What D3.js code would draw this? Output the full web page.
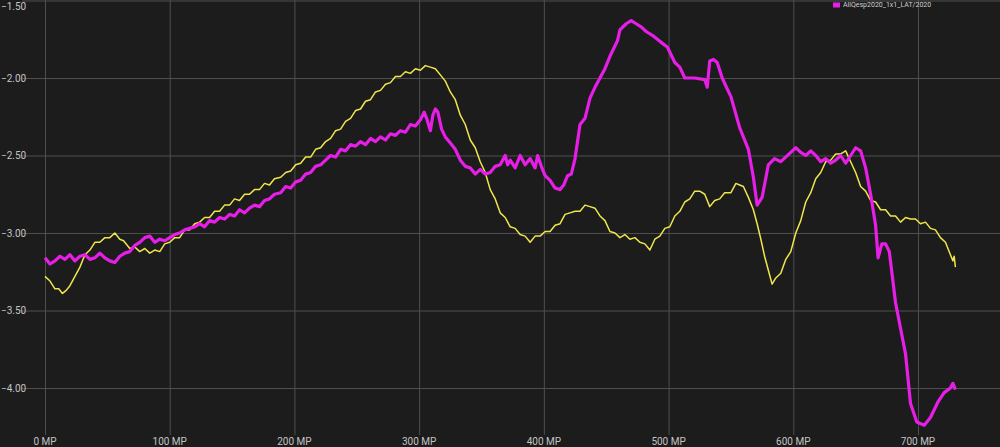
<!DOCTYPE html>
<html><head><meta charset="utf-8">
<script src="https://cdn.jsdelivr.net/npm/d3@7"></script>
<style>html,body{margin:0;padding:0;background:#1c1c1c;overflow:hidden}</style>
</head><body>
<svg id="c" width="1000" height="447"></svg>
<script>
const yTicks = [-1.5, -2.0, -2.5, -3.0, -3.5, -4.0];
const xTicks = [0, 100, 200, 300, 400, 500, 600, 700];
const legendLabel = "AllQesp2020_1x1_LAT/2020";

// [MP, value]
const yellowSeries = [
[0,-3.28],[4,-3.31],[8,-3.36],[11,-3.36],[14,-3.39],[17,-3.37],[20,-3.34],[24,-3.28],[28,-3.22],[32,-3.14],[36,-3.11],[40,-3.06],[44,-3.06],[48,-3.03],[52,-3.03],[56,-3.00],[60,-3.04],[63,-3.05],[68,-3.10],[72,-3.09],[76,-3.12],[80,-3.10],[84,-3.13],[88,-3.11],[92,-3.12],[96,-3.07],[100,-3.06],[104,-3.03],[108,-3.03],[112,-2.98],[116,-2.98],[120,-2.94],[124,-2.93],[128,-2.90],[132,-2.90],[136,-2.86],[140,-2.86],[144,-2.82],[148,-2.82],[152,-2.78],[156,-2.79],[160,-2.75],[164,-2.75],[168,-2.72],[172,-2.72],[176,-2.68],[180,-2.69],[184,-2.65],[189,-2.64],[193,-2.61],[197,-2.60],[201,-2.56],[205,-2.55],[209,-2.51],[213,-2.51],[217,-2.46],[221,-2.45],[225,-2.41],[229,-2.39],[233,-2.34],[237,-2.33],[241,-2.28],[245,-2.26],[249,-2.21],[253,-2.20],[257,-2.15],[261,-2.14],[265,-2.09],[269,-2.08],[273,-2.04],[277,-2.03],[281,-1.99],[285,-1.99],[289,-1.96],[293,-1.97],[297,-1.94],[301,-1.95],[305,-1.92],[309,-1.93],[313,-1.94],[317,-1.98],[321,-2.02],[325,-2.09],[329,-2.14],[333,-2.24],[337,-2.30],[341,-2.40],[345,-2.45],[349,-2.54],[353,-2.61],[357,-2.72],[361,-2.78],[365,-2.87],[369,-2.90],[373,-2.96],[377,-2.97],[381,-3.01],[385,-3.02],[389,-3.06],[393,-3.02],[397,-3.02],[401,-2.99],[405,-2.99],[409,-2.95],[413,-2.94],[417,-2.88],[421,-2.87],[425,-2.86],[429,-2.86],[433,-2.82],[437,-2.83],[441,-2.84],[445,-2.89],[449,-2.92],[453,-2.99],[457,-3.00],[461,-3.03],[465,-3.01],[469,-3.04],[473,-3.03],[477,-3.06],[481,-3.07],[485,-3.11],[489,-3.04],[493,-3.02],[497,-2.97],[501,-2.96],[505,-2.89],[509,-2.86],[513,-2.80],[517,-2.78],[521,-2.73],[525,-2.73],[529,-2.75],[533,-2.83],[537,-2.79],[541,-2.78],[545,-2.74],[550,-2.74],[554,-2.68],[557,-2.69],[560,-2.70],[564,-2.77],[568,-2.85],[571,-2.94],[574,-3.04],[577,-3.15],[580,-3.24],[583,-3.33],[586,-3.29],[590,-3.26],[594,-3.17],[598,-3.12],[602,-3.00],[606,-2.92],[610,-2.80],[614,-2.74],[618,-2.65],[622,-2.61],[626,-2.54],[630,-2.53],[634,-2.49],[638,-2.49],[642,-2.47],[646,-2.54],[650,-2.61],[654,-2.70],[658,-2.73],[662,-2.79],[666,-2.80],[670,-2.85],[674,-2.85],[678,-2.89],[682,-2.89],[686,-2.93],[690,-2.90],[694,-2.91],[698,-2.91],[702,-2.94],[706,-2.93],[710,-2.97],[714,-2.98],[718,-3.03],[722,-3.06],[726,-3.14],[728,-3.18],[729,-3.15],[730,-3.22]
];

const magentaSeries = [
[0,-3.16],[4,-3.20],[8,-3.18],[12,-3.15],[16,-3.17],[20,-3.14],[24,-3.18],[28,-3.15],[32,-3.14],[36,-3.17],[40,-3.16],[44,-3.13],[48,-3.16],[52,-3.18],[56,-3.19],[60,-3.15],[64,-3.13],[68,-3.12],[72,-3.08],[76,-3.06],[80,-3.03],[84,-3.02],[88,-3.06],[92,-3.04],[96,-3.05],[100,-3.03],[104,-3.01],[108,-3.00],[112,-2.98],[116,-2.97],[120,-2.96],[124,-2.94],[128,-2.96],[132,-2.92],[136,-2.93],[140,-2.90],[144,-2.91],[148,-2.88],[152,-2.89],[156,-2.85],[160,-2.87],[164,-2.84],[168,-2.82],[172,-2.83],[176,-2.79],[180,-2.78],[184,-2.75],[189,-2.74],[193,-2.70],[197,-2.71],[201,-2.67],[205,-2.66],[209,-2.62],[213,-2.61],[217,-2.57],[221,-2.56],[225,-2.53],[229,-2.50],[233,-2.51],[237,-2.46],[241,-2.47],[245,-2.43],[249,-2.44],[253,-2.41],[257,-2.43],[261,-2.39],[265,-2.41],[269,-2.38],[273,-2.40],[277,-2.36],[281,-2.37],[285,-2.34],[289,-2.35],[293,-2.30],[297,-2.31],[301,-2.27],[304,-2.22],[306,-2.26],[309,-2.34],[311,-2.24],[313,-2.20],[315,-2.22],[318,-2.33],[321,-2.38],[325,-2.42],[329,-2.46],[333,-2.53],[337,-2.57],[341,-2.58],[345,-2.62],[349,-2.59],[353,-2.62],[357,-2.61],[361,-2.57],[365,-2.56],[369,-2.50],[371,-2.56],[373,-2.53],[377,-2.58],[381,-2.50],[385,-2.56],[389,-2.52],[393,-2.58],[395,-2.50],[398,-2.57],[401,-2.63],[405,-2.66],[409,-2.71],[413,-2.72],[416,-2.69],[419,-2.63],[422,-2.62],[425,-2.52],[429,-2.30],[433,-2.26],[437,-2.13],[441,-2.06],[445,-2.00],[449,-1.94],[453,-1.86],[459,-1.76],[461,-1.69],[466,-1.65],[470,-1.63],[474,-1.65],[478,-1.67],[482,-1.70],[488,-1.73],[494,-1.77],[499,-1.80],[505,-1.90],[509,-1.93],[513,-2.00],[517,-2.00],[521,-2.00],[529,-2.01],[531,-2.06],[533,-1.89],[536,-1.88],[539,-1.90],[543,-2.00],[547,-2.07],[550,-2.12],[557,-2.32],[564,-2.46],[568,-2.64],[571,-2.82],[575,-2.77],[580,-2.56],[585,-2.52],[590,-2.54],[598,-2.48],[602,-2.45],[606,-2.48],[610,-2.50],[614,-2.47],[618,-2.50],[622,-2.54],[626,-2.52],[630,-2.55],[634,-2.53],[638,-2.50],[642,-2.55],[646,-2.50],[650,-2.45],[654,-2.47],[658,-2.58],[662,-2.75],[666,-2.95],[668,-3.16],[671,-3.07],[674,-3.07],[677,-3.12],[682,-3.45],[690,-3.78],[694,-4.10],[699,-4.22],[705,-4.24],[710,-4.19],[716,-4.09],[721,-4.03],[726,-4.00],[728,-3.97],[730,-4.01]
];

const W = 1000, H = 447;
const svg = d3.select("#c");
svg.append("rect").attr("width", W).attr("height", H).attr("fill", "#1c1c1c");

const x = d3.scaleLinear().domain([0, 700]).range([45, 918]);
const y = d3.scaleLinear().domain([-4, -1.5]).range([388, 0.5]);

// horizontal grid
const gy = svg.append("g")
  .call(d3.axisRight(y).tickValues(yTicks).tickSize(W).tickFormat(""));
gy.select(".domain").remove();
gy.selectAll("line").attr("stroke", "#4e4e4e").attr("stroke-width", 1).attr("x1", 22);

// vertical grid
const gx = svg.append("g")
  .call(d3.axisBottom(x).tickValues(xTicks).tickSize(435).tickFormat(""));
gx.select(".domain").remove();
gx.selectAll("line").attr("stroke", "#4e4e4e").attr("stroke-width", 1);

// y labels
svg.append("g").selectAll("text").data(yTicks).join("text")
  .attr("x", 1).attr("y", d => Math.max(y(d), 6)).attr("dy", "0.35em")
  .attr("fill", "#c4c4c4").attr("font-family", "Roboto, Arial, sans-serif").attr("font-size", 10)
  .text(d => d3.format(".2f")(d));

// x labels
svg.append("g").selectAll("text").data(xTicks).join("text")
  .attr("x", d => x(d)).attr("y", 445).attr("text-anchor", "middle")
  .attr("fill", "#c4c4c4").attr("font-family", "Roboto, Arial, sans-serif").attr("font-size", 10)
  .text(d => d + " MP");

const line = d3.line().x(d => x(d[0])).y(d => y(d[1])).curve(d3.curveLinear);

svg.append("path").datum(yellowSeries)
  .attr("d", line).attr("fill", "none").attr("stroke", "#f0e64c").attr("stroke-width", 1.5)
  .attr("stroke-linejoin", "round");

svg.append("path").datum(magentaSeries)
  .attr("d", line).attr("fill", "none").attr("stroke", "#e61ee6").attr("stroke-width", 3.2)
  .attr("stroke-linejoin", "round");

// legend
svg.append("rect").attr("x", 833).attr("y", 2.5).attr("width", 7).attr("height", 5).attr("fill", "#e61ee6");
svg.append("text").attr("x", 843).attr("y", 5).attr("dy", "0.35em")
  .attr("fill", "#cfcfcf").attr("font-family", "Roboto, Arial, sans-serif").attr("font-size", 7)
  .text(legendLabel);
</script>
</body></html>
